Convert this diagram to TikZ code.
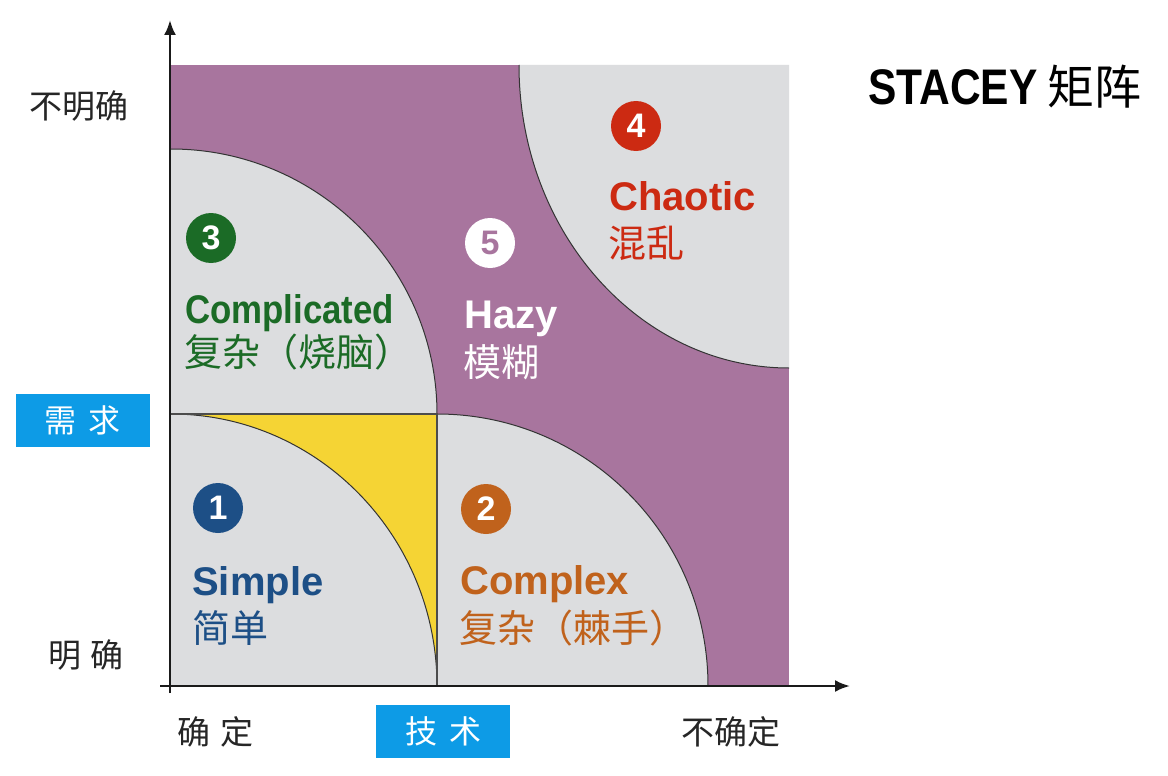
\documentclass[tikz,border=0pt]{standalone}
\usepackage{fontspec}
\usetikzlibrary{arrows.meta}
\newfontfamily\cjk{Noto Sans CJK SC}
\newfontfamily\en{Liberation Sans}
\newfontfamily\entitle[FakeStretch=0.85]{Liberation Sans}
\definecolor{purp}{HTML}{A8759E}
\definecolor{rgray}{HTML}{DCDDDF}
\definecolor{ryellow}{HTML}{F5D434}
\definecolor{cblue}{HTML}{1D4F86}
\definecolor{corange}{HTML}{C0621C}
\definecolor{cgreen}{HTML}{1B6B26}
\definecolor{cred}{HTML}{CC2A12}
\definecolor{tagblue}{HTML}{0D9BE6}
\definecolor{axcol}{HTML}{1A1A1A}
\begin{document}
\begin{tikzpicture}[x=1pt,y=-1pt,
  region/.style={fill=rgray},
  arcline/.style={draw=black!80, line width=1pt},
  midline/.style={draw=black!70, line width=1.6pt},
  axisline/.style={draw=axcol, line width=2.5pt, -{Latex[length=15pt,width=12pt]}},
  num/.style={circle, inner sep=0pt, minimum size=50pt, font=\en\bfseries\fontsize{34}{34}\selectfont, text=white},
  entext/.style={anchor=base west, inner sep=0pt, font=\en\bfseries\fontsize{40}{40}\selectfont},
  zhtext/.style={anchor=west, inner sep=0pt, font=\cjk\fontsize{38}{38}\selectfont},
  axlabel/.style={inner sep=0pt, text=black!85, font=\cjk\fontsize{33}{33}\selectfont},
  tagbox/.style={fill=tagblue, text=white, minimum width=134pt, minimum height=53pt, inner sep=0pt, font=\cjk\fontsize{32}{32}\selectfont}
]
\useasboundingbox (0,0) rectangle (1168,776);
\fill[white] (0,0) rectangle (1168,776);

% purple background
\fill[purp] (171,65) rectangle (789,686);

% upper-left quarter (3)
\fill[region] (171,414) -- (171,149) .. controls (317.4,149) and (437,267.6) .. (437,414) -- cycle;
\draw[arcline] (171,149) .. controls (317.4,149) and (437,267.6) .. (437,414);

% lower-left square (1) with yellow
\fill[region] (171,414) rectangle (437,686);
\fill[ryellow] (171,414) -- (437,414) -- (437,686) .. controls (437,535.8) and (317.4,414) .. (171,414) -- cycle;
\draw[arcline] (437,686) .. controls (437,535.8) and (317.4,414) .. (171,414);

% lower-right quarter (2)
\fill[region] (437,686) -- (437,414) .. controls (586.7,414) and (708,535.8) .. (708,686) -- cycle;
\draw[arcline] (437,414) .. controls (586.7,414) and (708,535.8) .. (708,686);

% upper-right quarter (4)
\fill[region] (789,65) -- (519,65) .. controls (519,232.3) and (640,368) .. (789,368) -- cycle;
\draw[arcline] (519,65) .. controls (519,232.3) and (640,368) .. (789,368);

% mid lines
\draw[midline] (171,414) -- (437,414);
\draw[midline] (437,414) -- (437,686);

% axes
\coordinate (ybot) at (170,693);
\coordinate (ytop) at (170,20);
\coordinate (xleft) at (160,686);
\coordinate (xright) at (850,686);
\draw[axisline] (ybot) -- (ytop);
\draw[axisline] (xleft) -- (xright);

% numbered circles
\node[num, fill=cgreen] (n3) at (211,238) {3};
\node[num, fill=white, text=purp] (n5) at (490,243) {5};
\node[num, fill=cred] (n4) at (636,126) {4};
\node[num, fill=cblue] (n1) at (218,508) {1};
\node[num, fill=corange] (n2) at (486,509) {2};

% region texts
\node[entext, text=cgreen] (t3) at (185,323) {\scalebox{0.87}[1]{Complicated}};
\node[zhtext, text=cgreen] (z3) at (184,352) {复杂（烧脑）};
\node[entext, text=white] (t5) at (464,328) {Hazy};
\node[zhtext, text=white] (z5) at (463,362) {模糊};
\node[entext, text=cred] (t4) at (609,210) {Chaotic};
\node[zhtext, text=cred] (z4) at (608,243) {混乱};
\node[entext, text=cblue] (t1) at (192,595) {Simple};
\node[zhtext, text=cblue] (z1) at (192,628) {简单};
\node[entext, text=corange] (t2) at (460,594) {Complex};
\node[zhtext, text=corange] (z2) at (459,628) {复杂（棘手）};

% axis labels
\node[axlabel] (ytopl) at (79,106) {不明确};
\node[axlabel] (ybotl) at (86,655) {明\hspace{10pt}确};
\node[axlabel] (xleftl) at (215,732) {确\hspace{10pt}定};
\node[axlabel] (xrightl) at (731,732) {不确定};
\node[tagbox] (need) at (83,420) {需\hspace{12pt}求};
\node[tagbox] (tech) at (443,731) {技\hspace{12pt}术};

% title
\node[anchor=base west, inner sep=0pt] (title) at (868,105) {{\entitle\bfseries\fontsize{50}{50}\selectfont STACEY}\hspace{10pt}{\cjk\fontsize{47}{47}\selectfont 矩阵}};
\end{tikzpicture}
\end{document}
